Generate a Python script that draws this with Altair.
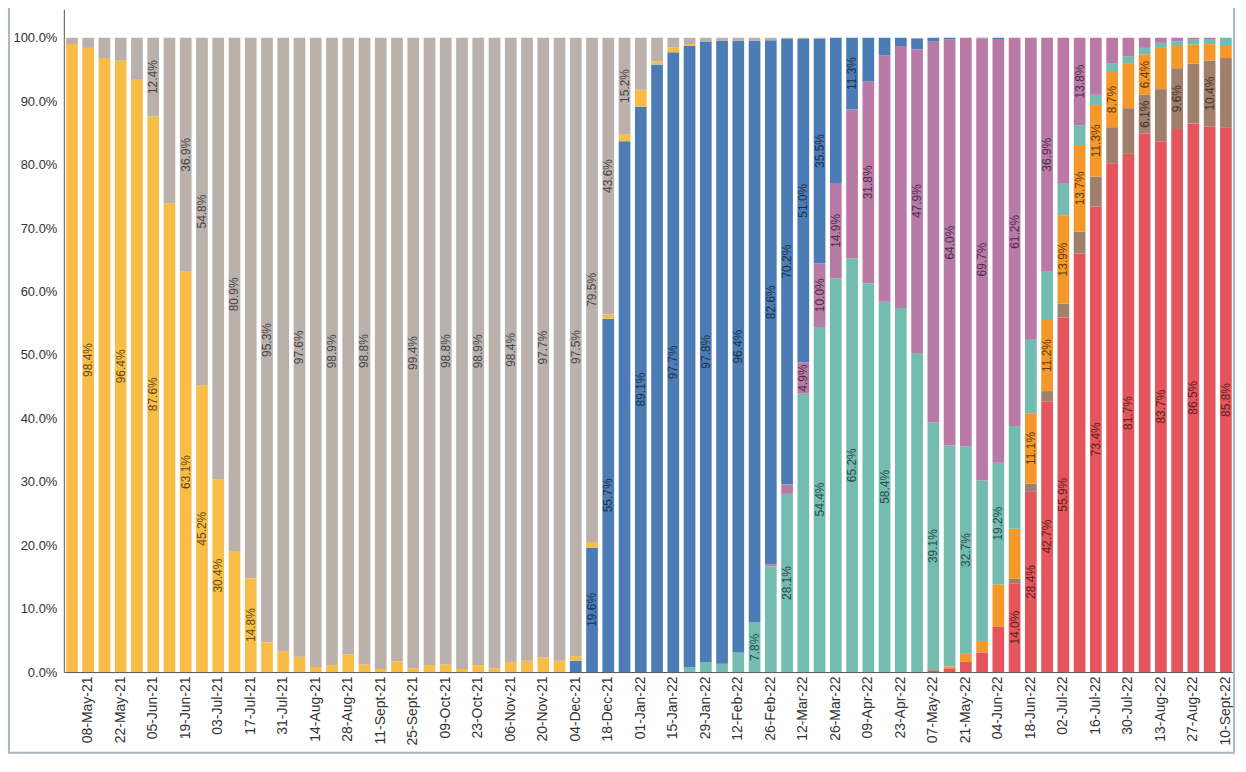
import datetime as dt
import altair as alt
import pandas as pd

# ---------------- data ----------------
MONTHS = ["Jan", "Feb", "Mar", "Apr", "May", "Jun", "Jul", "Aug", "Sept", "Oct", "Nov", "Dec"]
START = dt.date(2021, 5, 1)
N_WEEKS = 72
weeks = []
for i in range(N_WEEKS):
    d = START + dt.timedelta(days=7 * i)
    weeks.append(f"{d.day:02d}-{MONTHS[d.month - 1]}-{d.year % 100:02d}")
tick_weeks = weeks[1::2]

# stacking order: bottom -> top
series_names = ["BA.5", "BA.4.6", "BA.4", "BA.2", "BA.2.12.1", "BA.1", "Alpha", "Delta"]
series_colors = ["#E5555B", "#A0806C", "#F5982A", "#72BDB0", "#BA7AA8", "#4C7CB5", "#F8BD47", "#BAB0AC"]

alpha = [99.0, 98.4, 96.8, 96.4, 93.5, 87.6, 73.9, 63.1, 45.2, 30.4,
         19.1, 14.8, 4.7, 3.3, 2.4, 0.8, 1.1, 2.8, 1.2, 0.5,
         1.7, 0.6, 1.1, 1.2, 0.5, 1.1, 0.6, 1.6, 1.8, 2.3,
         1.8, 0.7, 0.9, 0.7, 1.1, 2.7, 0.5, 0.8, 0.3, 0.0] + [0.0] * 32
delta = [1.0, 1.6, 3.2, 3.6, 6.5, 12.4, 26.1, 36.9, 54.8, 69.6,
         80.9, 85.2, 95.3, 96.7, 97.6, 99.2, 98.9, 97.2, 98.8, 99.5,
         98.3, 99.4, 98.9, 98.8, 99.5, 98.9, 99.4, 98.4, 98.2, 97.7,
         98.2, 97.5, 79.5, 43.6, 15.2, 8.2, 3.7, 1.5, 1.0, 0.6,
         0.5, 0.5, 0.5, 0.4, 0.2, 0.2, 0.1] + [0.0] * 25
ba1 = [0.0] * 31 + [1.8, 19.6, 55.7, 83.7, 89.1, 95.8, 97.7, 98.0, 97.8,
                    98.2, 96.4, 91.7, 82.6, 70.2, 51.0, 35.5, 23.0, 11.3, 6.9,
                    2.8, 1.3, 1.7, 0.6, 0.3, 0.0, 0.1, 0.2] + [0.0] * 14
ba2 = [0.0] * 38 + [0.7, 1.6, 1.3, 3.1, 7.8, 16.7, 28.1, 43.9, 54.4, 62.1,
                    65.2, 61.3, 58.4, 57.4, 50.3, 39.1, 34.8, 32.7, 25.3, 19.2,
                    16.2, 11.6, 7.6, 5.0, 3.1, 1.6, 1.4, 1.1, 1.0, 0.8,
                    0.7, 0.8, 0.8, 1.3]
ba2121 = [0.0] * 43 + [0.3, 1.5, 4.9, 10.0, 14.9, 23.5, 31.8, 38.8, 41.3, 47.9,
                       60.0, 64.0, 64.4, 69.7, 66.8, 61.2, 47.6, 36.9, 23.0, 13.8,
                       9.0, 4.0, 2.9, 1.6, 0.8, 0.6, 0.3, 0.2, 0.0]
ba4 = [0.0] * 54 + [0.3, 1.3, 1.8, 6.6, 7.9, 11.1, 11.2, 13.9, 13.7, 11.3,
                    8.7, 7.1, 6.4, 6.5, 3.5, 3.0, 2.6, 1.9]
ba46 = [0.0] * 58 + [0.7, 1.3, 1.6, 2.2, 3.4, 4.7, 5.7, 7.2, 6.1, 8.2,
                     9.6, 9.4, 10.4, 11.0]
ba5 = [0.0] * 53 + [0.3, 0.6, 1.6, 3.1, 7.2, 14.0, 28.4, 42.7, 55.9, 66.0,
                    73.4, 80.2, 81.7, 84.9, 83.7, 85.6, 86.5, 86.0, 85.8]

series_values = {
    "BA.5": ba5, "BA.4.6": ba46, "BA.4": ba4, "BA.2": ba2,
    "BA.2.12.1": ba2121, "BA.1": ba1, "Alpha": alpha, "Delta": delta,
}

# segments that carry a percentage label: (week index, series)
labelled = [
    (1, "Alpha"), (3, "Alpha"), (5, "Alpha"), (5, "Delta"), (7, "Alpha"), (7, "Delta"),
    (8, "Alpha"), (8, "Delta"), (9, "Alpha"), (10, "Delta"), (11, "Alpha"), (12, "Delta"),
    (14, "Delta"), (16, "Delta"), (18, "Delta"), (21, "Delta"), (23, "Delta"), (25, "Delta"),
    (27, "Delta"), (29, "Delta"), (31, "Delta"), (32, "Delta"), (32, "BA.1"),
    (33, "Delta"), (33, "BA.1"), (34, "Delta"), (35, "BA.1"), (37, "BA.1"), (39, "BA.1"),
    (41, "BA.1"), (42, "BA.2"), (43, "BA.1"), (44, "BA.1"), (44, "BA.2"),
    (45, "BA.1"), (45, "BA.2.12.1"), (46, "BA.1"), (46, "BA.2.12.1"), (46, "BA.2"),
    (47, "BA.2.12.1"), (48, "BA.1"), (48, "BA.2"), (49, "BA.2.12.1"), (50, "BA.2"),
    (52, "BA.2.12.1"), (53, "BA.2"), (54, "BA.2.12.1"), (55, "BA.2"), (56, "BA.2.12.1"),
    (57, "BA.2"), (58, "BA.2.12.1"), (58, "BA.5"), (59, "BA.5"), (59, "BA.4"),
    (60, "BA.2.12.1"), (60, "BA.4"), (60, "BA.5"), (61, "BA.4"), (61, "BA.5"),
    (62, "BA.2.12.1"), (62, "BA.4"), (63, "BA.4"), (63, "BA.5"), (64, "BA.4"),
    (65, "BA.5"), (66, "BA.4"), (66, "BA.4.6"), (67, "BA.5"), (68, "BA.4.6"),
    (69, "BA.5"), (70, "BA.4.6"), (71, "BA.5"),
]
labelled_set = set(labelled)

rows = []
for k, name in enumerate(series_names):
    vals = series_values[name]
    for i, w in enumerate(weeks):
        if vals[i] > 0:
            rows.append({"week": w, "series": name, "value": vals[i] / 100.0,
                         "ord": k, "lab": (i, name) in labelled_set})
df = pd.DataFrame(rows)

# ---------------- chart ----------------
FONT = "Liberation Sans"

x_enc = alt.X(
    "week:N", sort=weeks,
    scale=alt.Scale(paddingInner=0.28, paddingOuter=0.14),
    axis=alt.Axis(values=tick_weeks, labelAngle=270, title=None, ticks=False,
                  labelFontSize=14, labelColor="#333333", domainColor="#555555",
                  labelPadding=4, labelFont=FONT, grid=False),
)

base = alt.Chart(df).transform_stack(
    stack="value", groupby=["week"],
    sort=[alt.SortField("ord", order="ascending")], as_=["v0", "v1"],
).transform_calculate(mid="(datum.v0 + datum.v1) / 2")

bars = base.mark_bar().encode(
    x=x_enc,
    y=alt.Y("v0:Q", scale=alt.Scale(domain=[0, 1.045], nice=False),
            axis=alt.Axis(format=".1%", values=[i / 10 for i in range(11)], title=None,
                          ticks=False, grid=False, labelFontSize=13, labelColor="#333333",
                          domainColor="#555555", labelPadding=7, labelFont=FONT)),
    y2="v1:Q",
    color=alt.Color("series:N", scale=alt.Scale(domain=series_names, range=series_colors),
                    legend=None),
)

labels = base.transform_filter("datum.lab").mark_text(
    angle=270, fontSize=12, font=FONT, color="#000000", opacity=0.62,
).encode(
    x=x_enc,
    y="mid:Q",
    text=alt.Text("value:Q", format=".1%"),
)

frame = alt.Chart(pd.DataFrame({"f": [0]})).mark_rect(
    fillOpacity=0, stroke="#a9b8c2", strokeWidth=2,
).encode(x=alt.value(-55), x2=alt.value(1174), y=alt.value(-20), y2=alt.value(746))

chart = alt.layer(bars, labels, frame).properties(
    width=1174, height=665,
    autosize=alt.AutoSizeParams(type="none"),
    padding={"left": 56, "top": 0, "right": 4, "bottom": 84},
).configure(font=FONT).configure_view(strokeWidth=0)

chart.save("out.html", embed_options={"renderer": "svg", "actions": False})
